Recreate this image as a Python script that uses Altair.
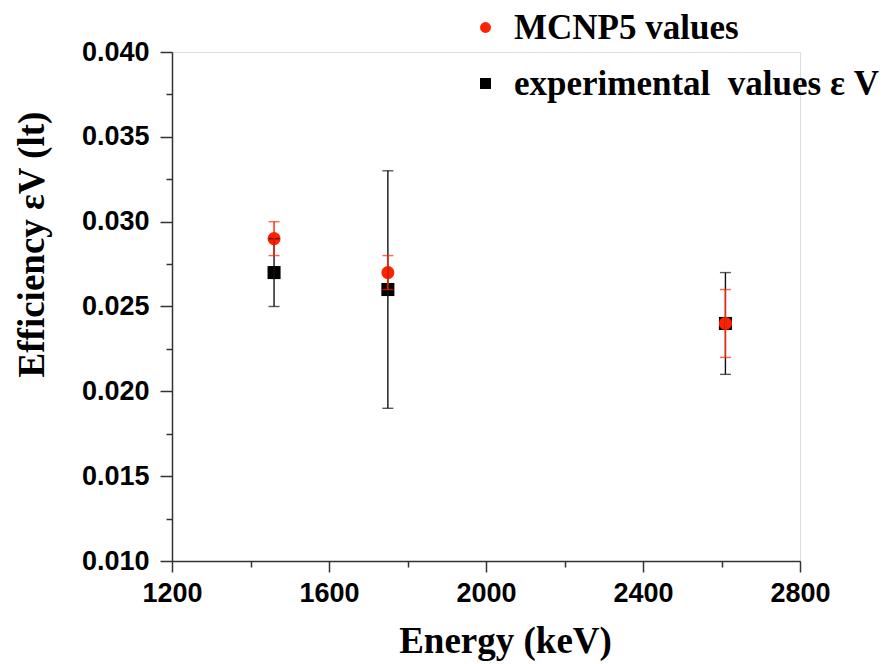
import altair as alt
import pandas as pd

energy = [1460, 1750, 2610]
mcnp_values = [0.029, 0.027, 0.024]
mcnp_errors = [0.001, 0.001, 0.002]
exp_values = [0.027, 0.026, 0.024]
exp_errors = [0.002, 0.007, 0.003]

series_names = ["MCNP5 values", "experimental\u00a0 values ε V"]
series_colors = ["#FF2200", "#000000"]
series_shapes = ["circle", "square"]

x_ticks = [1200, 1400, 1600, 1800, 2000, 2200, 2400, 2600, 2800]
y_ticks = [0.010, 0.0125, 0.015, 0.0175, 0.020, 0.0225, 0.025, 0.0275,
           0.030, 0.0325, 0.035, 0.0375, 0.040]

rows = []
# experimental first so squares are drawn beneath circles
for e, v, s in zip(energy, exp_values, exp_errors):
    rows.append({"energy": e, "value": v, "lo": v - s, "hi": v + s, "series": series_names[1]})
for e, v, s in zip(energy, mcnp_values, mcnp_errors):
    rows.append({"energy": e, "value": v, "lo": v - s, "hi": v + s, "series": series_names[0]})
df = pd.DataFrame(rows)
df_exp = df[df["series"] == series_names[1]]
df_mc = df[df["series"] == series_names[0]]

label_font = "Liberation Sans"
title_font = "Liberation Serif"

x_axis = alt.Axis(
    values=x_ticks, format="d",
    labelExpr="datum.value % 400 == 0 ? datum.label : ''",
    tickSize={"condition": {"test": "datum.value % 400 != 0", "value": 6}, "value": 11},
    labelFont=label_font, labelFontSize=27, labelFontWeight="bold", labelColor="#000",
    labelPadding=8, labelFlush=False, labelOverlap=False,
    title="Energy (keV)", titleFont=title_font, titleFontSize=37, titleFontWeight="bold",
    titleColor="#000", titleX=333, titleY=62,
    grid=False, domainColor="#333", domainWidth=1.5, tickColor="#333", tickWidth=1.5,
)
y_axis = alt.Axis(
    values=y_ticks,
    labelExpr="round(datum.value*10000) % 50 == 0 ? format(datum.value, '.3f') : ''",
    tickSize={"condition": {"test": "round(datum.value*10000) % 50 != 0", "value": 6}, "value": 12},
    labelFont=label_font, labelFontSize=27, labelFontWeight="bold", labelColor="#000",
    labelPadding=11, labelFlush=False, labelOverlap=False,
    title="Efficiency εV (lt)", titleFont=title_font, titleFontSize=37, titleFontWeight="bold",
    titleColor="#000", titleX=-121, titleY=192,
    grid=False, domainColor="#333", domainWidth=1.5, tickColor="#333", tickWidth=1.5,
)

xs = alt.Scale(domain=[1200, 2800], nice=False, zero=False)
ys = alt.Scale(domain=[0.010, 0.040], nice=False, zero=False)

leg = alt.Legend(
    title=None, orient="none", legendX=296, legendY=-42, padding=0,
    labelFont=title_font, labelFontSize=35, labelFontWeight="bold", labelColor="#000",
    labelLimit=600, labelOffset=11, rowPadding=20, symbolSize=120, symbolStrokeWidth=0,
)

points = alt.Chart(df).mark_point(filled=True, size=170, opacity=1).encode(
    x=alt.X("energy:Q", scale=xs, axis=x_axis),
    y=alt.Y("value:Q", scale=ys, axis=y_axis),
    color=alt.Color("series:N", scale=alt.Scale(domain=series_names, range=series_colors), legend=leg),
    shape=alt.Shape("series:N", scale=alt.Scale(domain=series_names, range=series_shapes), legend=leg),
)

def err_layers(d, color):
    rule = alt.Chart(d).mark_rule(color=color, strokeWidth=1.4).encode(
        x="energy:Q", y="lo:Q", y2="hi:Q")
    cap_lo = alt.Chart(d).mark_tick(color=color, orient="horizontal", size=11, thickness=1.4).encode(
        x="energy:Q", y="lo:Q")
    cap_hi = alt.Chart(d).mark_tick(color=color, orient="horizontal", size=11, thickness=1.4).encode(
        x="energy:Q", y="hi:Q")
    return [rule, cap_lo, cap_hi]

layers = [points] + err_layers(df_exp, "#111111") + err_layers(df_mc, "#FF2200")

chart = alt.layer(*layers).properties(
    width=628, height=509,
    autosize=alt.AutoSizeParams(type="none"),
    padding={"left": 164, "top": 44, "right": 82, "bottom": 103},
).configure_view(stroke=None).configure(background="white")

chart.save("out.html", embed_options={"renderer": "svg", "actions": False})
